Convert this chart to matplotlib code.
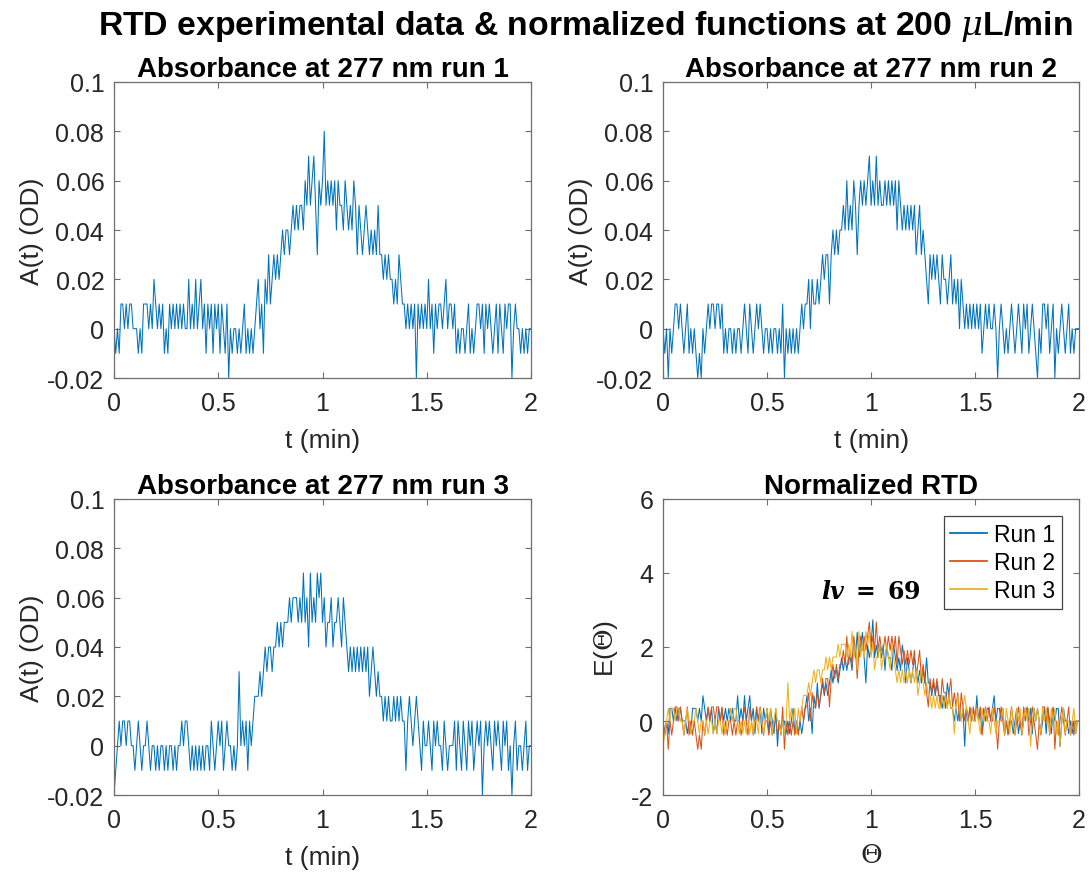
import numpy as np
import matplotlib
matplotlib.use('Agg')
import matplotlib.pyplot as plt
from matplotlib.ticker import FuncFormatter

plt.rcParams['font.family'] = ['Liberation Sans', 'DejaVu Sans']
plt.rcParams['axes.unicode_minus'] = False
plt.rcParams['mathtext.fontset'] = 'dejavuserif'

# absorbance readings in 0.01 OD steps, one sample every 0.5 s (t = 0 .. 2 min)
run1 = [0, -1, 0, -1, 1, 1, 0, 1, 0, 1, 1, 0,
        0, 0, -1, 0, -1, 1, 1, 1, 0, 1, 0, 2,
        1, 0, 1, 0, 1, -1, 0, -1, 1, 0, 1, 0,
        1, 0, 1, 0, 1, 0, 0, 2, 0, 1, 0, 2,
        0, 1, 2, 0, 1, -1, 1, 0, 1, -1, 1, 0,
        1, -1, 1, 0, -1, 1, -2, 0, -1, 0, 0, -1,
        0, -1, 0, 1, -1, 0, -1, 0, -1, 0, 1, 2,
        0, 1, -1, 2, 1, 3, 1, 2, 3, 2, 3, 2,
        3, 4, 3, 4, 4, 3, 4, 5, 4, 5, 4, 5,
        5, 4, 6, 5, 7, 5, 6, 7, 5, 3, 6, 5,
        6, 8, 5, 6, 5, 6, 5, 6, 4, 6, 5, 5,
        4, 6, 5, 4, 5, 4, 6, 5, 3, 5, 4, 3,
        4, 5, 4, 3, 4, 3, 4, 3, 5, 3, 3, 2,
        3, 2, 3, 2, 2, 1, 2, 1, 3, 2, 1, 1,
        0, 1, 0, 1, 0, 1, -2, 1, 0, 1, 0, 1,
        0, 2, 0, 1, -1, 1, 0, 1, 1, 0, 1, 2,
        0, 1, 1, 0, 1, -1, 0, -1, 0, 0, -1, 0,
        1, -1, 0, -1, 0, 1, 1, 0, 1, -1, 1, 0,
        1, 0, -1, 0, 1, -1, 1, 0, -1, 1, 0, 1,
        1, -2, 0, 1, 0, 0, -1, 0, -1, 0, -1, 0,
        0]

run2 = [0, -1, 0, -2, 0, -1, 0, 1, 1, 0, 1, 0,
        -1, 0, 1, -1, 0, -1, 0, -1, -2, -1, -2, 0,
        -1, 0, 1, 0, 1, 1, 0, 1, 1, 0, 1, -1,
        0, -1, 0, 0, -1, 0, -1, 0, 0, -1, 0, 1,
        0, -1, 1, 0, -1, 0, 1, 0, 1, 0, -1, 0,
        0, -1, 0, -1, 0, 0, -1, 0, -1, 1, -2, 0,
        -1, 0, -1, 0, -1, 0, -1, 0, 1, 0, 1, 1,
        2, 0, 2, 1, 1, 2, 1, 2, 3, 2, 3, 3,
        1, 3, 4, 3, 4, 3, 4, 4, 5, 4, 6, 4,
        5, 4, 6, 5, 3, 5, 6, 5, 6, 5, 6, 7,
        5, 6, 5, 7, 5, 6, 5, 5, 6, 5, 6, 5,
        6, 5, 6, 4, 6, 5, 4, 5, 4, 5, 4, 5,
        4, 5, 3, 4, 5, 3, 4, 3, 2, 1, 3, 2,
        3, 2, 3, 2, 1, 3, 2, 2, 1, 2, 3, 1,
        2, 1, 2, 0, 2, 1, 0, 1, 0, 1, 0, 1,
        0, 1, 0, 1, -1, 0, 1, 0, 1, 0, 0, 1,
        0, -2, 0, 1, 0, -1, 0, -1, 0, 1, 0, -1,
        0, 1, 0, -1, 1, 0, 1, -1, 0, 1, 0, -1,
        -2, 0, -1, 1, 1, 0, 1, -1, 0, 1, -2, 0,
        -1, 0, 1, 0, -1, 0, 1, -1, 0, -1, 0, 0,
        0]

run3 = [-2, -1, 0, 1, 0, 1, 1, 0, 1, 1, 0, 0,
        -1, 0, 1, 0, -1, 0, 0, 1, 0, -1, 0, 0,
        -1, 0, -1, 0, 0, -1, 0, -1, 0, 0, -1, 0,
        -1, 0, 0, 1, 0, 1, 1, 0, -1, 0, -1, 0,
        -1, 0, -1, 0, -1, 0, 0, -1, 1, 0, -1, 0,
        1, 0, 1, -1, 0, 1, 0, 0, -1, 0, -1, 0,
        3, 0, 1, 0, 1, -1, 1, 0, 1, 2, 2, 2,
        3, 2, 3, 4, 3, 4, 4, 3, 4, 4, 5, 4,
        5, 4, 5, 5, 5, 6, 5, 6, 6, 6, 5, 6,
        5, 7, 5, 6, 4, 7, 5, 6, 5, 7, 6, 7,
        5, 6, 4, 5, 5, 6, 4, 5, 5, 6, 5, 4,
        6, 5, 4, 3, 4, 3, 4, 3, 4, 3, 4, 3,
        4, 3, 4, 2, 3, 4, 3, 2, 3, 2, 2, 1,
        2, 1, 2, 1, 1, 2, 1, 2, 1, 2, 1, 1,
        -1, 1, 2, 1, 0, 1, 2, 1, 0, -1, 1, 0,
        0, 1, 0, -1, 1, 0, 1, 0, 0, -1, 1, 0,
        -1, 0, 0, 0, 1, -1, 1, 0, -1, 1, 0, -1,
        1, 0, 1, -1, 0, 1, 0, 1, -2, 0, 1, 0,
        1, 0, -1, 1, 0, 1, 0, -1, 1, 0, 1, -1,
        0, -2, 0, 1, -1, 0, 0, -1, 0, 1, -1, 0,
        0]

t_end = 2.0          # min
tau = 1.0            # nominal residence time, min
run_names = ['Run 1', 'Run 2', 'Run 3']
colors = ['#0072BD', '#D95319', '#EDB120']
lv_text = 69

runs = [np.array(r) * 0.01 for r in (run1, run2, run3)]
t = np.linspace(0, t_end, len(run1))
theta = t / tau

fig = plt.figure(figsize=(10.92, 8.79), dpi=100)
fig.suptitle(r'RTD experimental data & normalized functions at 200 $\mu$L/min',
             fontsize=24.3, fontweight='bold', x=0.536, y=0.99)

pos = [[0.1044, 0.5688, 0.3819, 0.3368],
       [0.6072, 0.5688, 0.3810, 0.3368],
       [0.1044, 0.0944, 0.3819, 0.3368],
       [0.6072, 0.0944, 0.3810, 0.3368]]

edge = '#6e6e6e'
txt = '#262626'
fs_tick = 18
fs_lab = 19
fs_title = 20


def style(ax):
    for s in ax.spines.values():
        s.set_color(edge)
        s.set_linewidth(0.9)
    ax.tick_params(direction='in', length=4, width=0.8, color=edge,
                   labelsize=fs_tick, labelcolor=txt, top=True, right=True)
    ax.tick_params(axis='x', pad=9)
    ax.tick_params(axis='y', pad=7)
    ax.set_xlim(0, 2)
    ax.set_xticks([0, 0.5, 1, 1.5, 2])
    ax.xaxis.set_major_formatter(FuncFormatter(lambda v, p: '%g' % v))


for k in range(3):
    ax = fig.add_axes(pos[k])
    ax.plot(t, runs[k], color=colors[0], lw=0.75)
    style(ax)
    ax.set_ylim(-0.02, 0.1)
    ax.set_yticks([-0.02, 0, 0.02, 0.04, 0.06, 0.08, 0.1])
    ax.yaxis.set_major_formatter(FuncFormatter(lambda v, p: '%g' % round(v, 2)))
    ax.set_title('Absorbance at 277 nm run %d' % (k + 1), fontsize=fs_title,
                 fontweight='bold', pad=4)
    ax.set_xlabel('t (min)', fontsize=fs_lab, color=txt, labelpad=10)
    ax.set_ylabel('A(t) (OD)', fontsize=fs_lab, color=txt, labelpad=2)

ax4 = fig.add_axes(pos[3])
for k in range(3):
    E = runs[k] / np.trapezoid(runs[k], theta)
    ax4.plot(theta, E, color=colors[k], lw=0.75, label=run_names[k])
style(ax4)
ax4.set_ylim(-2, 6)
ax4.set_yticks([-2, 0, 2, 4, 6])
ax4.yaxis.set_major_formatter(FuncFormatter(lambda v, p: '%g' % v))
ax4.set_title('Normalized RTD', fontsize=fs_title, fontweight='bold', pad=4)
ax4.set_xlabel(r'$\Theta$', fontsize=fs_lab, color=txt, labelpad=8)
ax4.set_ylabel(r'E($\Theta$)', fontsize=fs_lab, color=txt, labelpad=8)
ax4.text(1.0, 3.5, r'$\mathbfit{lv}\ \mathbf{=\ %d}$' % lv_text, fontsize=17,
         ha='center', va='center', color='black')
leg = ax4.legend(loc='upper right', fontsize=16.5, handlelength=1.6,
                 borderaxespad=0.75, fancybox=False, framealpha=1,
                 edgecolor='#444444', labelspacing=0.22, borderpad=0.3,
                 handletextpad=0.3)
leg.get_frame().set_linewidth(0.9)
for h in leg.get_lines():
    h.set_linewidth(1.3)

fig.savefig('out.png', dpi=100)
